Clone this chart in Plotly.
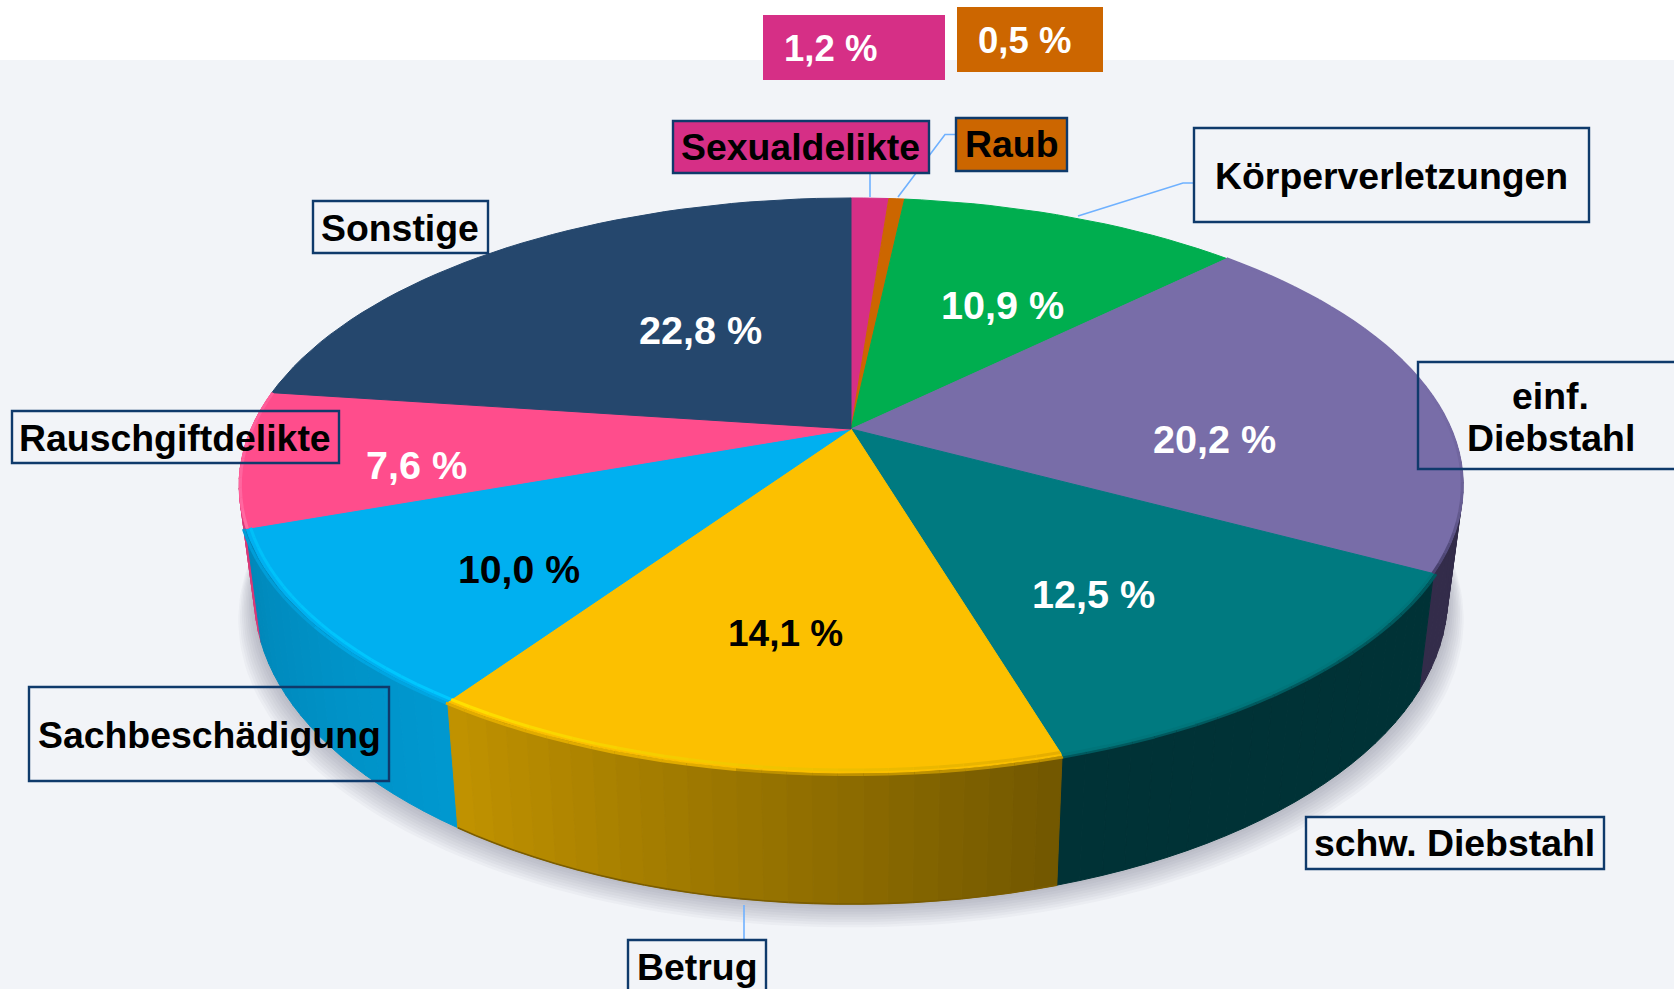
import math
import plotly.graph_objects as go

# ---- data (clockwise from 12 o'clock) ----
categories = ["Sexualdelikte", "Raub", "Körperverletzungen", "einf. Diebstahl", "schw. Diebstahl",
              "Betrug", "Sachbeschädigung", "Rauschgiftdelikte", "Sonstige"]
values = [1.2, 0.5, 10.9, 20.2, 12.5, 14.1, 10.0, 7.6, 22.8]

# ---- styling ----
top_colors = ["#d62f86", "#cc6600", "#00ae4f", "#786da8", "#007a80", "#fcc000", "#00b0f0", "#ff4d8c", "#25476d"]
side_start = ["#a02060", "#994d00", "#007a38", "#352e4d", "#003236", "#735800", "#0098cf", "#d83a78", "#1a3350"]
side_end = ["#a02060", "#994d00", "#007a38", "#332c4a", "#003236", "#c09200", "#0088ba", "#e04a85", "#1a3350"]
rim_start = [None, None, None, "#786da8", "#00757a", "#e6ae00", "#00c8ff", "#ff6aa2", None]
rim_end = [None, None, None, "#4a4270", "#00757a", "#ffe000", "#00c0f8", "#ff5c98", None]
rim_radius = [None, None, None, 0.999, 0.999, 0.993, 0.993, 0.998, None]
rim_power = [None, None, None, 5, 1, 1, 1, 1, None]
percent_colors = ["white", "white", "white", "white", "white", "black", "black", "white", "white"]
percent_sizes = [36.5, 36.5, 39.6, 39.6, 39.6, 37, 39.2, 39.6, 39.6]
percent_pos = [(830, 48), (1024, 40), (1002, 305), (1214, 439), (1093, 594), (785, 633), (519, 569), (416, 465), (700, 330)]

BG = "#f2f4f8"
BORDER = "#0f3a6b"
CONN = "#6fb1ff"
FONT = "Liberation Sans"

# label boxes: x0, x1, y0, y1, fill
boxes = [
    (673, 929, 121, 173, "#d62f86"), (956, 1067, 118, 171, "#cc6600"), (1194, 1589, 128, 222, None),
    (1418, 1690, 362, 469, None), (1306, 1604, 817, 869, BG), (628, 766, 940, 1010, None),
    (29, 389, 687, 781, None), (12, 339, 411, 463, None), (313, 488, 201, 253, BG),
]
label_text = [("Sexualdelikte", 800, 147), ("Raub", 1011, 144), ("Körperverletzungen", 1391, 176),
              ("einf.", 1550, 396), ("Diebstahl", 1551, 438), ("schw. Diebstahl", 1454, 843),
              ("Betrug", 697, 967), ("Sachbeschädigung", 209, 735), ("Rauschgiftdelikte", 175, 438),
              ("Sonstige", 400, 228)]
percent_boxes = [(763, 945, 15, 80, "#d62f86"), (957, 1103, 7, 72, "#cc6600")]
connectors = ["M870,173 L870,197", "M956,134.5 L945,134.5 L898,197", "M1194,183 L1183,183 L1078,216", "M744,905 L744,940"]

# geometry of the tilted disc
CX, CY, A, B, P = 851.0, 429.0, 600.0, 276.4, 0.1964
S, K, BY = 0.975, 1.07, 536.0


def top(frac, r=1.0):
    t = 2 * math.pi * frac
    u, v = r * math.sin(t), r * math.cos(t)
    w = 1 + P * v
    return CX + A * u / w, CY - B * v / w


def bottom(frac):
    x, y = top(frac)
    return CX + S * (x - CX), BY + K * (y - CY)


def mix(c0, c1, t):
    a = [int(c0[i:i + 2], 16) for i in (1, 3, 5)]
    b = [int(c1[i:i + 2], 16) for i in (1, 3, 5)]
    return "rgb(%d,%d,%d)" % tuple(round(p + (q - p) * t) for p, q in zip(a, b))


def frange(a, b):
    n = max(2, int((b - a) * 360 / 2) + 1)
    return [a + (b - a) * i / n for i in range(n + 1)]


total = sum(values)
edges = [0.0]
for val in values:
    edges.append(edges[-1] + val / total)

fig = go.Figure()


def poly(xs, ys, fill, line=None):
    fig.add_trace(go.Scatter(x=xs, y=ys, mode="lines", fill="toself", fillcolor=fill,
                             line=dict(color=line or fill, width=1 if line else 0),
                             hoverinfo="skip", showlegend=False))


def segment(a, b, color, width):
    fig.add_trace(go.Scatter(x=[a[0], b[0]], y=[a[1], b[1]], mode="lines",
                             line=dict(color=color, width=width),
                             hoverinfo="skip", showlegend=False))


# soft shadow under the disc
grid = [i / 240 for i in range(241)]
for i in range(9, 0, -1):
    pts = [bottom(f) for f in grid]
    s = 1 + i * 0.003
    xs = [CX + s * (x - CX) for x, _ in pts]
    ys = [y + i * 2.6 for _, y in pts]
    poly(xs, ys, "rgba(60,65,85,0.035)")

# side wall, built strip by strip from the slice angles
strips = []
for k in range(3, 8):
    fr = frange(edges[k], edges[k + 1])
    for j in range(len(fr) - 1):
        f0, f1 = fr[j], fr[j + 1]
        t = j / (len(fr) - 2)
        x0, y0 = top(f0)
        x1, y1 = top(f1)
        x2, y2 = bottom(f1)
        x3, y3 = bottom(f0)
        strips.append(((y2 + y3) / 2, [x0, x1, x2, x3, x0], [y0, y1, y2, y3, y0], mix(side_start[k], side_end[k], t)))
strips.sort(key=lambda e: e[0])
for _, xs, ys, col in strips:
    poly(xs, ys, col, col)

# darker lower edge of the yellow wall
fr = frange(edges[5], edges[6])
for j in range(len(fr) - 1):
    segment(bottom(fr[j]), bottom(fr[j + 1]), "#7a5c00", 1.6)

# soft seam between wall and top face
for k in range(4, 7):
    fr = frange(edges[k], edges[k + 1])
    for j in range(len(fr) - 1):
        t = j / (len(fr) - 2)
        a, b = top(fr[j], 1.004), top(fr[j + 1], 1.004)
        wall = side_start[k] if t < 0.5 else side_end[k]
        segment(a, b, mix(top_colors[k], wall, 0.45), 3)

# top face
for k in range(len(values)):
    pts = [top(f) for f in frange(edges[k], edges[k + 1])]
    xs = [CX] + [p[0] for p in pts] + [CX]
    ys = [CY] + [p[1] for p in pts] + [CY]
    poly(xs, ys, top_colors[k], top_colors[k])

# bevel along the front rim
for k in range(3, 8):
    fr = frange(edges[k], edges[k + 1])
    for j in range(len(fr) - 1):
        t = (j / (len(fr) - 2)) ** rim_power[k]
        segment(top(fr[j], rim_radius[k]), top(fr[j + 1], rim_radius[k]),
                mix(rim_start[k], rim_end[k], t), 3)

shapes = [dict(type="rect", xref="x", yref="y", x0=0, x1=1674, y0=60, y1=989, fillcolor=BG,
               line=dict(width=0), layer="below")]
for path in connectors:
    shapes.append(dict(type="path", xref="x", yref="y", path=path, line=dict(color=CONN, width=1.6)))
for x0, x1, y0, y1, fill in percent_boxes:
    shapes.append(dict(type="rect", xref="x", yref="y", x0=x0, x1=x1, y0=y0, y1=y1, fillcolor=fill, line=dict(width=0)))
for x0, x1, y0, y1, fill in boxes:
    shapes.append(dict(type="rect", xref="x", yref="y", x0=x0, x1=x1, y0=y0, y1=y1,
                       fillcolor=fill or "rgba(0,0,0,0)", line=dict(color=BORDER, width=2.4)))

annotations = []
for val, col, size, (x, y) in zip(values, percent_colors, percent_sizes, percent_pos):
    annotations.append(dict(x=x, y=y, xref="x", yref="y", text="<b>" + f"{val:.1f} %".replace(".", ",") + "</b>",
                            showarrow=False, font=dict(family=FONT, size=size, color=col),
                            xanchor="center", yanchor="middle"))
for text, x, y in label_text:
    annotations.append(dict(x=x, y=y, xref="x", yref="y", text="<b>" + text + "</b>", showarrow=False,
                            font=dict(family=FONT, size=37.4, color="black"), xanchor="center", yanchor="middle"))

fig.update_layout(
    width=1674, height=989, margin=dict(l=0, r=0, t=0, b=0), autosize=False,
    paper_bgcolor="white", plot_bgcolor="white", showlegend=False,
    xaxis=dict(range=[0, 1674], visible=False, fixedrange=True),
    yaxis=dict(range=[989, 0], visible=False, fixedrange=True),
    shapes=shapes, annotations=annotations,
)
fig.write_html("out.html", config={"displayModeBar": False},
               post_script="document.body.style.margin='0';")
